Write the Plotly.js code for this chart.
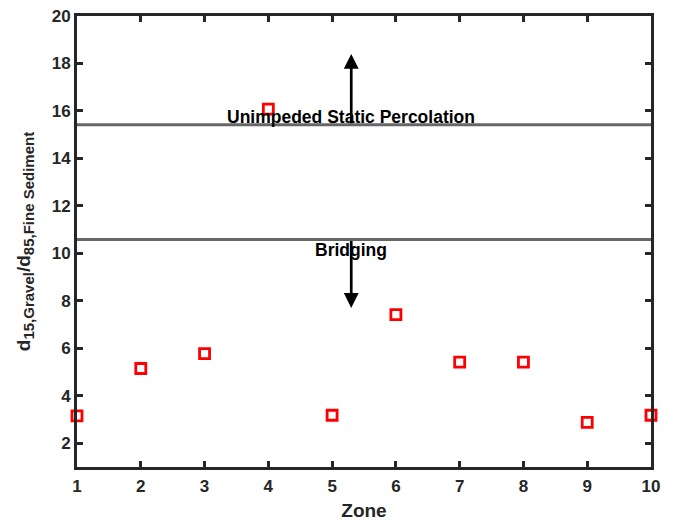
<!DOCTYPE html>
<html><head><meta charset="utf-8">
<script src="https://cdn.plot.ly/plotly-3.0.1.min.js"></script>
<style>body{margin:0;background:#fff}#chart{width:675px;height:521px}</style>
</head><body><div id="chart"></div>
<script>
const zones = [1,2,3,4,5,6,7,8,9,10];
const ratios = [3.15,5.15,5.78,16.08,3.18,7.42,5.42,5.42,2.88,3.18];
const thresholds = [15.42, 10.58];
const thresholdLabels = ["Unimpeded Static Percolation", "Bridging"];
const labelY = [15.75, 10.15];
const arrowX = 5.3;
const arrowTips = [18.4, 7.7];
const yTicks = [2,4,6,8,10,12,14,16,18,20];

const dark = '#262626';
const fam = 'Liberation Sans, Arial, Helvetica';
const traces = [
  {x:[1,10], y:[thresholds[0],thresholds[0]], mode:'lines', line:{color:'#666666', width:3}, hoverinfo:'skip'},
  {x:[1,10], y:[thresholds[1],thresholds[1]], mode:'lines', line:{color:'#666666', width:3}, hoverinfo:'skip'},
  {x:zones, y:ratios, mode:'markers', cliponaxis:false,
   marker:{symbol:'square-open', size:10, color:'#ff0000', line:{width:2.8, color:'#ff0000'}}}
];
const annotations = [
  {x:arrowX, y:arrowTips[0], ax:arrowX, ay:thresholds[0], xref:'x', yref:'y', axref:'x', ayref:'y',
   showarrow:true, arrowhead:2, arrowsize:1.1, arrowwidth:2.7, arrowcolor:'#000', text:''},
  {x:arrowX, y:arrowTips[1], ax:arrowX, ay:thresholds[1], xref:'x', yref:'y', axref:'x', ayref:'y',
   showarrow:true, arrowhead:2, arrowsize:1.1, arrowwidth:2.7, arrowcolor:'#000', text:''},
  {x:arrowX, y:labelY[0], xref:'x', yref:'y', showarrow:false, text:thresholdLabels[0],
   font:{family:fam, size:17.5, color:'#000', weight:'bold'}, xanchor:'center'},
  {x:arrowX, y:labelY[1], xref:'x', yref:'y', showarrow:false, text:thresholdLabels[1],
   font:{family:fam, size:17.5, color:'#000', weight:'bold'}, xanchor:'center'}
];
const axisCommon = {showline:true, linewidth:3, linecolor:dark, mirror:'ticks', ticks:'inside',
  ticklen:6, tickwidth:3, tickcolor:dark, showgrid:false, zeroline:false,
  tickfont:{family:fam, size:17, color:dark, weight:'bold'}};
const layout = {
  width:675, height:521, showlegend:false,
  margin:{l:77, r:24, t:16, b:54},
  paper_bgcolor:'#fff', plot_bgcolor:'#fff',
  xaxis:Object.assign({}, axisCommon, {range:[1,10], tickvals:zones, ticktext:zones.map(String),
    ticklabelstandoff:2,
    title:{text:'Zone', standoff:12, font:{family:fam, size:19, color:dark, weight:'bold'}}}),
  yaxis:Object.assign({}, axisCommon, {range:[1,20], tickvals:yTicks,
    title:{text:'d<sub><span style="font-size:15px">15,Gravel</span></sub>/d<sub><span style="font-size:15px">85,Fine Sediment</span></sub>', standoff:17,
      font:{family:fam, size:19, color:dark, weight:'bold'}}}),
  annotations:annotations
};
Plotly.newPlot('chart', traces, layout, {displayModeBar:false, staticPlot:true});
</script></body></html>
